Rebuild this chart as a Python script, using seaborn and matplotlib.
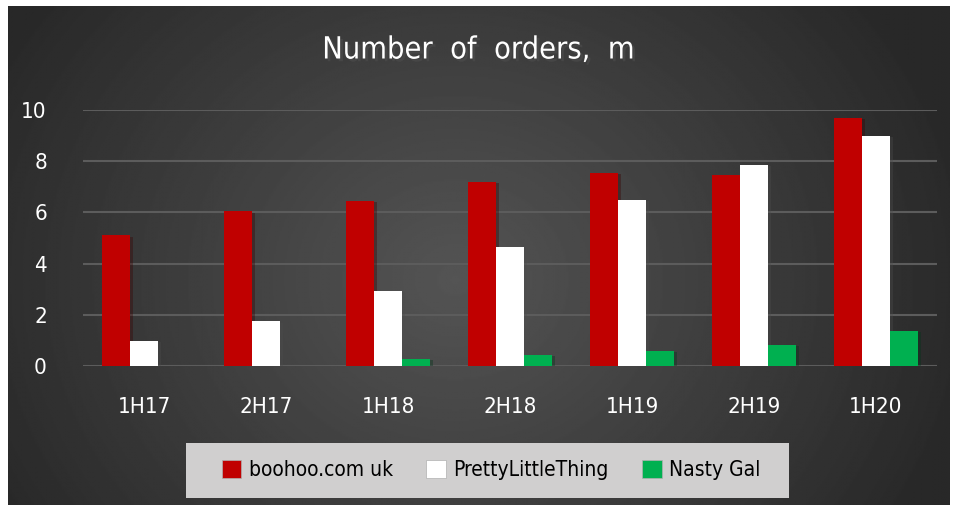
import numpy as np
import pandas as pd
import matplotlib
matplotlib.use('Agg')
import matplotlib.pyplot as plt
import matplotlib.patheffects as pe
from matplotlib.patches import Rectangle
import seaborn as sns

# ── Data ──────────────────────────────────────────────────────────────────────
periods = ['1H17', '2H17', '1H18', '2H18', '1H19', '2H19', '1H20']
boohoo = [5.1, 6.05, 6.45, 7.2, 7.55, 7.45, 9.7]
plt_orders = [0.98, 1.75, 2.93, 4.65, 6.5, 7.85, 9.0]
nasty_gal = [0.0, 0.0, 0.27, 0.43, 0.6, 0.82, 1.37]
brands = ['boohoo.com uk', 'PrettyLittleThing', 'Nasty Gal']
colors = ['#c00000', '#ffffff', '#00b050']

df = pd.DataFrame({
    'period': periods * 3,
    'brand': [brands[0]] * 7 + [brands[1]] * 7 + [brands[2]] * 7,
    'orders': boohoo + plt_orders + nasty_gal,
})

sns.set_style('dark')
plt.rcParams['font.family'] = ['DejaVu Sans']
plt.rcParams['font.stretch'] = 'condensed'

fig = plt.figure(figsize=(9.57, 5.11), dpi=100)
fig.patch.set_facecolor('white')

# ── background panel with gradient ───────────────────────────────────────────
bg = fig.add_axes([8 / 957, 6 / 511, 942 / 957, 499 / 511])
bg.set_axis_off()
yy, xx = np.mgrid[-1:1:300j, -1:1:600j]
r = np.sqrt(((xx + 0.05) * 1.0) ** 2 + ((yy - 0.1) * 0.6) ** 2)
grad = 0.33 - 0.17 * np.clip(r, 0, 1.1) / 1.1
bg.imshow(grad, cmap='gray', vmin=0, vmax=1, aspect='auto', extent=[0, 1, 0, 1])
bg.set_xlim(0, 1)
bg.set_ylim(0, 1)

# ── bar chart ────────────────────────────────────────────────────────────────
ax = fig.add_axes([83 / 957, 1 - 366 / 511, 854 / 957, (366 - 110) / 511])
ax.patch.set_alpha(0)
sns.barplot(data=df, x='period', y='orders', hue='brand', palette=colors,
            width=0.69, ax=ax, legend=False, saturation=1,
            edgecolor='none', linewidth=0)
for bar in ax.patches:
    bar.set_path_effects([pe.SimplePatchShadow(offset=(2, -1), alpha=0.35), pe.Normal()])

ax.set_ylim(0, 10)
ax.set_yticks([0, 2, 4, 6, 8, 10])
ax.yaxis.grid(True, color='#5c5c5c', linewidth=1.5)
ax.xaxis.grid(False)
ax.set_axisbelow(True)
for s in ax.spines.values():
    s.set_visible(False)
ax.tick_params(axis='y', colors='white', labelsize=16, length=0, pad=26)
ax.tick_params(axis='x', colors='white', labelsize=16, length=0, pad=22)
ax.set_xlabel('')
ax.set_ylabel('')

fig.text(0.5, 1 - 50 / 511, 'Number  of  orders,  m', color='white', fontsize=22,
         ha='center', va='center',
         path_effects=[pe.withSimplePatchShadow(offset=(2, -2), alpha=0.6)])

# ── legend box ───────────────────────────────────────────────────────────────
fig.patches.append(Rectangle((186 / 957, 1 - 498 / 511), 603 / 957, 55 / 511,
                             transform=fig.transFigure, facecolor='#d0cfcf',
                             edgecolor='none', zorder=5))
handles = [Rectangle((0, 0), 1, 1, facecolor=c, edgecolor='#b0b0b0', linewidth=0.5)
           for c in colors]
leg = fig.legend(handles, brands, loc='center', bbox_to_anchor=(491 / 957, 1 - 470 / 511),
                 ncol=3, frameon=False, fontsize=15, handlelength=0.95, handleheight=0.95,
                 handletextpad=0.35, columnspacing=1.6, labelcolor='black')
leg.set_zorder(6)

plt.savefig('out.png', dpi=100)
plt.close()
